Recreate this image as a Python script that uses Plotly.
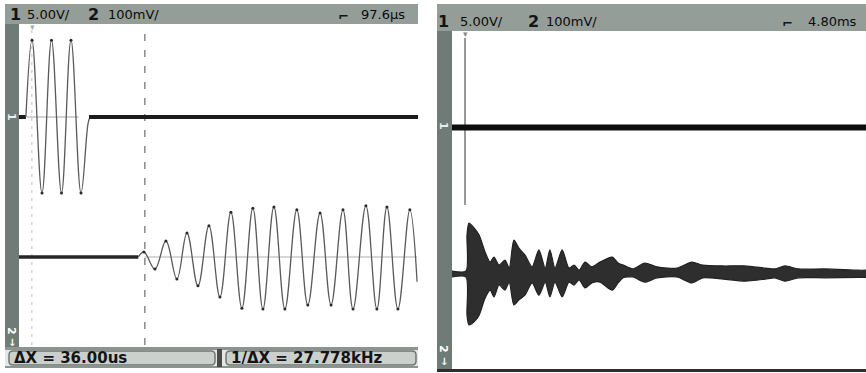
import plotly.graph_objects as go

W, H = 866, 373

# ---------------- data ----------------
# Left screen: time in microseconds, channel 1 in volts, channel 2 in millivolts
L_ch1_base_t = [0.0, 2.2]
L_ch1_base_v = [0.0, 0.0]
L_ch1_burst_t = [2.2, 4.14, 7.32, 10.35, 13.54, 16.56, 19.75, 22.0, 22.6]
L_ch1_burst_v = [0.0, 9.6, -9.5, 9.6, -9.5, 9.6, -9.5, -0.8, 0.0]
L_ch1_tail_t = [22.3, 127.1]
L_ch1_tail_v = [0.0, 0.0]

L_ch2_base_t = [0.0, 38.0]
L_ch2_base_v = [0.0, 0.0]
L_ch2_osc_t = [38.0, 39.8, 43.3, 46.8, 50.3, 53.5, 57.0, 60.5, 64.0, 67.5, 71.0,
               74.5, 77.7, 81.2, 84.7, 88.5, 92.0, 95.9, 99.4, 103.2, 106.4,
               110.5, 114.0, 117.2, 120.7, 124.5, 126.8]
L_ch2_osc_v = [0, 12.5, -30, 40, -55, 60, -72, 78, -100, 112, -128,
               122, -130, 125, -130, 118, -120, 110, -120, 118, -130,
               128, -130, 125, -130, 118, -62]

L_cursor_t = [4.1, 40.1]          # ΔX = 36.00 us
L_ch1_zero_seg = [2.5, 19.0]
L_ch2_zero_seg = [40.0, 126.8]

# Right screen: time in divisions, channel 1 in volts, channel 2 in millivolts
R_ch1_base_t = [0.0, 9.77]
R_ch1_base_v = [0.0, 0.0]
R_ch1_spike_t = [0.307, 0.307]
R_ch1_spike_v = [10.56, -9.14]

R_ch2_t = [0.0, 0.33, 0.354, 0.40, 0.52, 0.64, 0.78, 0.90, 0.99, 1.11, 1.25, 1.35,
           1.46, 1.58, 1.72, 1.89, 2.05, 2.20, 2.31, 2.43, 2.60, 2.76, 2.88, 3.00,
           3.14, 3.30, 3.49, 3.78, 3.92, 4.04, 4.27, 4.55, 4.84, 5.31, 5.66, 5.92,
           6.40, 6.91, 7.39, 7.62, 7.86, 8.17, 8.80, 9.58, 9.77]
R_ch2_upper = [7, 7, 92, 120, 109, 92, 52, 28, 40, 21, 33, 14,
               80, 61, 45, 17, 57, 14, 57, 14, 57, 14, 21, 9,
               28, 17, 28, 40, 26, 21, 12, 26, 17, 14, 28, 21,
               19, 19, 14, 12, 19, 12, 12, 9, 9]
R_ch2_lower = [-7, -7, -97, -120, -113, -97, -57, -38, -54, -26, -38, -19,
               -73, -61, -50, -21, -50, -19, -54, -19, -54, -19, -26, -14,
               -33, -21, -19, -38, -21, -9, -7, -19, -9, -7, -21, -9,
               -12, -17, -12, -9, -17, -9, -9, -8, -8]

header_left = ["1", "5.00V/", "2", "100mV/", "97.6µs"]
header_right = ["1", "5.00V/", "2", "100mV/", "4.80ms"]
cursor_texts = ["ΔX = 36.00us", "1/ΔX = 27.778kHz"]

# ---------------- figure ----------------
fig = go.Figure()

def line(x, y, xa, ya, color, width, shape="linear", dash="solid"):
    fig.add_trace(go.Scatter(x=x, y=y, xaxis=xa, yaxis=ya, mode="lines",
                             line=dict(color=color, width=width, shape=shape, dash=dash,
                                       smoothing=1.1 if shape == "spline" else None),
                             hoverinfo="skip", showlegend=False))

def dots(x, y, xa, ya):
    fig.add_trace(go.Scatter(x=x, y=y, xaxis=xa, yaxis=ya, mode="markers",
                             marker=dict(size=3, color="#2a2a2a"),
                             hoverinfo="skip", showlegend=False))

# left: thin zero lines inside bursts
line(L_ch1_zero_seg, [0, 0], "x", "y", "#9a9a9a", 0.9)
line(L_ch2_zero_seg, [0, 0], "x", "y2", "#a5a5a5", 0.9)
# left channel 1
line(L_ch1_base_t, L_ch1_base_v, "x", "y", "#1c1c1c", 4)
line(L_ch1_burst_t, L_ch1_burst_v, "x", "y", "#5a5a5a", 1.3, shape="spline")
dots(L_ch1_burst_t[1:-2], L_ch1_burst_v[1:-2], "x", "y")
line(L_ch1_tail_t, L_ch1_tail_v, "x", "y", "#1c1c1c", 4)
# left channel 2
line(L_ch2_base_t, L_ch2_base_v, "x", "y2", "#262626", 3.5)
line(L_ch2_osc_t, L_ch2_osc_v, "x", "y2", "#5a5a5a", 1.3, shape="spline")
dots(L_ch2_osc_t[1:-1], L_ch2_osc_v[1:-1], "x", "y2")

# right channel 2 burst (envelope fill)
fig.add_trace(go.Scatter(x=R_ch2_t, y=R_ch2_lower, xaxis="x2", yaxis="y4", mode="lines",
                         line=dict(color="#222222", width=1.2, shape="spline", smoothing=0.7),
                         hoverinfo="skip", showlegend=False))
fig.add_trace(go.Scatter(x=R_ch2_t, y=R_ch2_upper, xaxis="x2", yaxis="y4", mode="lines",
                         line=dict(color="#222222", width=1.2, shape="spline", smoothing=0.7),
                         fill="tonexty", fillcolor="#2e2e2e", hoverinfo="skip",
                         showlegend=False))
# right channel 1
line(R_ch1_spike_t, R_ch1_spike_v, "x2", "y3", "#555555", 1.2)
line(R_ch1_base_t, R_ch1_base_v, "x2", "y3", "#0d0d0d", 6)

def px(x):
    return x / W

def py(y):
    return 1 - y / H

shapes = []

def rect(x0, y0, x1, y1, fill, lw=0, lc=None, layer="below"):
    shapes.append(dict(type="rect", xref="paper", yref="paper",
                       x0=px(x0), x1=px(x1), y0=py(y1), y1=py(y0),
                       fillcolor=fill, line=dict(width=lw, color=lc or fill), layer=layer))

def rrect(x0, y0, x1, y1, r, fill, lc, lw):
    X0, X1, Y0, Y1 = px(x0), px(x1), py(y1), py(y0)
    rx, ry = r / W, r / H
    path = (f"M{X0+rx},{Y0} L{X1-rx},{Y0} Q{X1},{Y0} {X1},{Y0+ry} "
            f"L{X1},{Y1-ry} Q{X1},{Y1} {X1-rx},{Y1} L{X0+rx},{Y1} "
            f"Q{X0},{Y1} {X0},{Y1-ry} L{X0},{Y0+ry} Q{X0},{Y0} {X0+rx},{Y0} Z")
    shapes.append(dict(type="path", xref="paper", yref="paper", path=path,
                       fillcolor=fill, line=dict(color=lc, width=lw), layer="above"))

HDR = "#959d98"
STRIP = "#6f7b76"

# left panel frame
rect(5, 4, 418, 24, HDR, layer="above")
rect(5, 24, 19, 349, STRIP, layer="above")
rect(5, 347, 418, 350, "#8c948f", layer="above")
rect(5, 350, 418, 366, "#e4e7e5", layer="above")
rect(5, 366, 418, 368, "#8c948f", layer="above")
rrect(9, 351, 215, 365, 4, "#cbd0cd", "#6f7773", 1.5)
rrect(226, 351, 416, 365, 4, "#cbd0cd", "#6f7773", 1.5)
rect(217, 349, 222, 367, "#4a4a4a", layer="above")

# right panel frame
rect(437, 4, 866, 31, HDR, layer="above")
rect(437, 31, 452, 371, STRIP, layer="above")
rect(437, 369, 866, 372, "#2e2e2e", layer="above")

# cursors on the left screen
for i, t in enumerate(L_cursor_t):
    shapes.append(dict(type="line", xref="x", yref="y domain", x0=t, x1=t, y0=0, y1=1,
                       line=dict(color="#bdbdbd" if i == 0 else "#4d4d4d", width=1,
                                 dash="3px,5px" if i == 0 else "7px,9px"),
                       layer="below"))

anns = []

def txt(x, y, s, size=13, color="#141414", bold=False, anchor="left", angle=0,
        family="DejaVu Sans"):
    anns.append(dict(xref="paper", yref="paper", x=px(x), y=py(y), text=f"<b>{s}</b>" if bold else s,
                     showarrow=False, xanchor=anchor, yanchor="middle", textangle=angle,
                     font=dict(family=family, size=size, color=color)))

# headers
for (xs, yc, hdr) in [((8, 25, 86, 106, 359), 14, header_left),
                      ((436, 458, 526, 544, 806), 21, header_right)]:
    txt(xs[0], yc, hdr[0], size=16, bold=True)
    txt(xs[1], yc, hdr[1], size=13, color="#0a0a0a")
    txt(xs[2], yc, hdr[2], size=16, bold=True)
    txt(xs[3], yc, hdr[3], size=13, color="#0a0a0a")
    txt(xs[4], yc, hdr[4], size=13, color="#0a0a0a")
txt(336, 16, "⌐", size=13, bold=True)
txt(780, 23, "⌐", size=13, bold=True)

# cursor readouts
txt(12, 358, cursor_texts[0], size=15, bold=True)
txt(229, 358, cursor_texts[1], size=15, bold=True)

# channel markers on strips
txt(12, 117, "1", size=11, color="#e8f0ee", bold=True, anchor="center", angle=90)
txt(444, 126, "1", size=11, color="#e8f0ee", bold=True, anchor="center", angle=90)
txt(12, 331, "2", size=11, color="#ffffff", bold=True, anchor="center", angle=90)
txt(12, 342, "↓", size=10, color="#ffffff", bold=True, anchor="center")
txt(444, 349, "2", size=11, color="#ffffff", bold=True, anchor="center", angle=90)
txt(444, 361, "↓", size=10, color="#ffffff", bold=True, anchor="center")
# trigger markers on top of screens
txt(32, 27, "▾", size=9, color="#9fb2ab", anchor="center")
txt(465, 34, "▾", size=9, color="#8a8a8a", anchor="center")

ax = dict(visible=False, showgrid=False, zeroline=False, fixedrange=True)
fig.update_layout(
    width=W, height=H, margin=dict(l=0, r=0, t=0, b=0),
    paper_bgcolor="white", plot_bgcolor="white", showlegend=False, hovermode=False,
    xaxis=dict(ax, domain=[px(19), px(418)], range=[0, 127.1]),
    yaxis=dict(ax, domain=[py(345), py(25)], range=[-28.5, 11.5], anchor="x"),
    yaxis2=dict(ax, domain=[py(345), py(25)], range=[-220, 580], anchor="x", overlaying="y"),
    xaxis2=dict(ax, domain=[px(452), 1.0], range=[0, 9.77], anchor="y3"),
    yaxis3=dict(ax, domain=[py(370), py(31)], range=[-28.6, 11.4], anchor="x2"),
    yaxis4=dict(ax, domain=[py(370), py(31)], range=[-226.5, 573.5], anchor="x2", overlaying="y3"),
    shapes=shapes, annotations=anns,
)

fig.write_html("out.html", config={"displayModeBar": False},
               post_script="document.body.style.margin='0';document.body.style.overflow='hidden';")
